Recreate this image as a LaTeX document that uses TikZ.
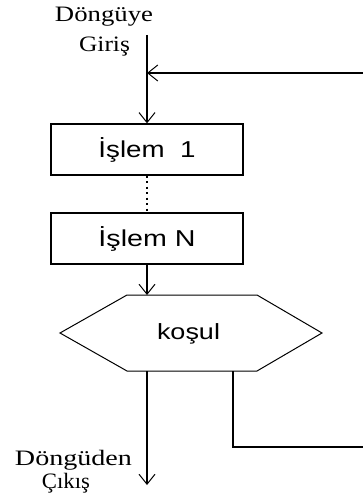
\documentclass[tikz,border=0pt]{standalone}
\usepackage{fontspec}
\usepackage{graphicx}
\setmainfont{Liberation Serif}
\newfontfamily\boxfont{Liberation Sans}
\usetikzlibrary{arrows.meta}
\newcommand\wfit[2]{\resizebox{#1}{\height}{#2}}
\begin{document}
\begin{tikzpicture}[x=1pt,y=-1pt, line width=1.3pt,
  arr/.style={-{Straight Barb[length=10pt,width=16pt,line width=1pt]}},
  procbox/.style={draw, minimum width=192pt, minimum height=51pt, inner sep=0pt,
    font=\boxfont\fontsize{23}{23}\selectfont},
  lbl/.style={anchor=base, inner sep=0pt, font=\fontsize{22}{22}\selectfont}]
\useasboundingbox (0,0) rectangle (363,500);
\coordinate (entry) at (147,35);
\coordinate (join) at (147,73);
\coordinate (loopin) at (363,73);
\node[procbox] (p1) at (147,149.5) {\wfit{97pt}{İşlem\ \ 1}};
\node[procbox] (pN) at (147,238.5) {\wfit{97pt}{İşlem N}};
\coordinate (hl) at (60,333);
\coordinate (htl) at (127,295);
\coordinate (htr) at (257,295);
\coordinate (hr) at (322,333);
\coordinate (hbr) at (257,371);
\coordinate (hbl) at (127,371);
\draw[line width=1pt] (hl) -- (htl) -- (htr) -- (hr) -- (hbr) -- (hbl) -- cycle;
\node[font=\boxfont\fontsize{22}{22}\selectfont, anchor=base, inner sep=0pt] (cond) at (188.5,339) {\wfit{63pt}{koşul}};
\coordinate (htop) at (147,295);
\coordinate (exitA) at (147,371);
\coordinate (exitB) at (147,485);
\coordinate (loopA) at (233,371);
\coordinate (loopout) at (363,447);
\draw[arr] (entry) -- (p1.north);
\draw[arr] (loopin) -- (join);
\draw[dash pattern=on 2pt off 3.5pt] (p1.south) -- (pN.north);
\draw[arr] (pN.south) -- (htop);
\draw[arr] (exitA) -- (exitB);
\draw (loopA) |- (loopout);
\node[lbl] (in1) at (104,22) {\wfit{98pt}{Döngüye}};
\node[lbl] (in2) at (104.5,52) {\wfit{51pt}{Giriş}};
\node[lbl] (out1) at (73.5,465) {\wfit{117pt}{Döngüden}};
\node[lbl] (out2) at (66,488) {\wfit{48pt}{Çıkış}};
\end{tikzpicture}
\end{document}
